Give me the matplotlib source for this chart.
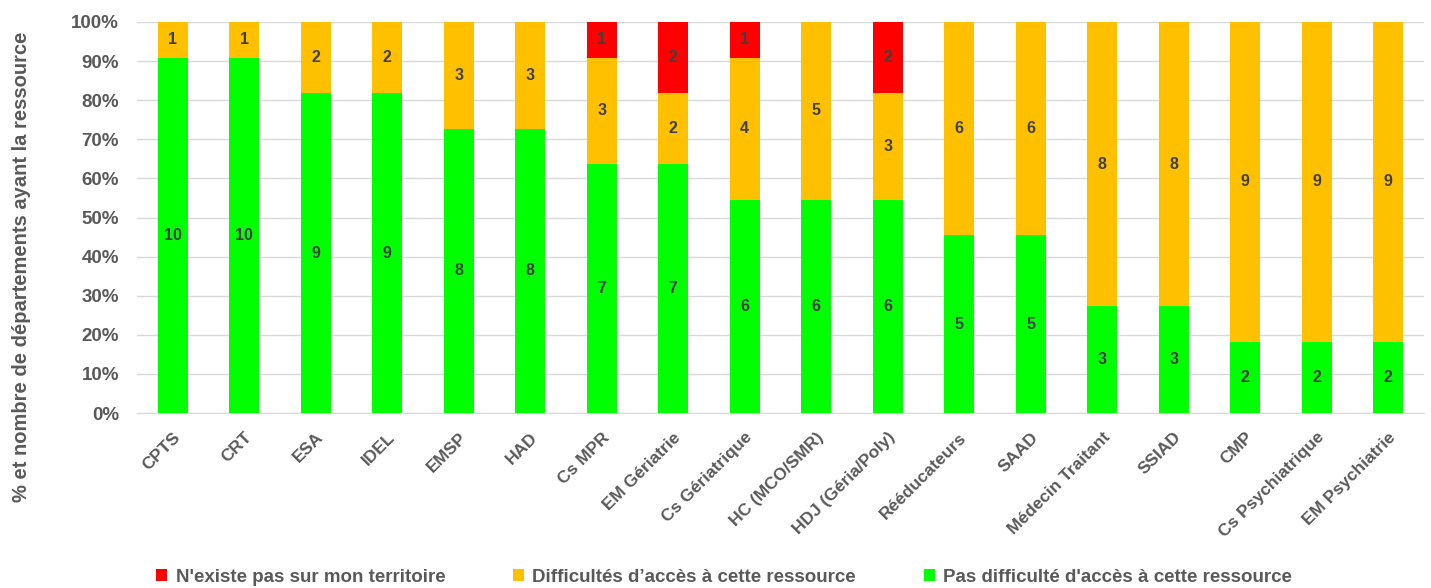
import matplotlib
matplotlib.use("Agg")
import matplotlib.pyplot as plt
import numpy as np

categories = ["CPTS", "CRT", "ESA", "IDEL", "EMSP", "HAD", "Cs MPR", "EM Gériatrie",
              "Cs Gériatrique", "HC (MCO/SMR)", "HDJ (Géria/Poly)", "Rééducateurs",
              "SAAD", "Médecin Traitant", "SSIAD", "CMP", "Cs Psychiatrique", "EM Psychiatrie"]
pas_difficulte = [10, 10, 9, 9, 8, 8, 7, 7, 6, 6, 6, 5, 5, 3, 3, 2, 2, 2]
difficultes = [1, 1, 2, 2, 3, 3, 3, 2, 4, 5, 3, 6, 6, 8, 8, 9, 9, 9]
n_existe_pas = [0, 0, 0, 0, 0, 0, 1, 2, 1, 0, 2, 0, 0, 0, 0, 0, 0, 0]

legend_labels = ["N'existe pas sur mon territoire",
                 "Difficultés d’accès à cette ressource",
                 "Pas difficulté d'accès à cette ressource"]
yticks = [0, 10, 20, 30, 40, 50, 60, 70, 80, 90, 100]

plt.rcParams["font.family"] = ["Liberation Sans", "DejaVu Sans"]
plt.rcParams["font.weight"] = "bold"

GREEN = "#00FF00"
ORANGE = "#FFC000"
RED = "#FF0000"
TEXT = "#595959"
LABEL = "#404040"

green = np.array(pas_difficulte, float)
orange = np.array(difficultes, float)
red = np.array(n_existe_pas, float)
total = green + orange + red
pg, po, pr = green / total * 100, orange / total * 100, red / total * 100

fig = plt.figure(figsize=(14.31, 5.88), dpi=100)
ax = fig.add_axes([137 / 1431, 1 - 413 / 588, (1424 - 137) / 1431, (413 - 22) / 588])

x = np.arange(len(categories))
w = 0.42
b1 = ax.bar(x, pg, w, color=GREEN, zorder=3, label=legend_labels[2])
b2 = ax.bar(x, po, w, bottom=pg, color=ORANGE, zorder=3, label=legend_labels[1])
b3 = ax.bar(x, pr, w, bottom=pg + po, color=RED, zorder=3, label=legend_labels[0])

for bars, vals in ((b1, green), (b2, orange), (b3, red)):
    labels = [f"{int(v)}" if v > 0 else "" for v in vals]
    ax.bar_label(bars, labels=labels, label_type="center", color=LABEL,
                 fontsize=11.5, fontweight="bold")

ax.set_xlim(-0.5, len(categories) - 0.5)
ax.set_ylim(0, 100)
ax.set_yticks(yticks)
ax.set_yticklabels([f"{t}%" for t in yticks], color=TEXT, fontsize=13.5, fontweight="bold")
ax.set_xticks(x)
ax.set_xticklabels(categories, rotation=45, ha="right", rotation_mode="anchor",
                   color=TEXT, fontsize=12.5, fontweight="bold")
ax.tick_params(axis="both", length=0)
ax.tick_params(axis="y", pad=13)
ax.tick_params(axis="x", pad=12)
ax.grid(axis="y", color="#D9D9D9", linewidth=1, zorder=0)
for s in ("top", "right", "left"):
    ax.spines[s].set_visible(False)
ax.spines["bottom"].set_color("#D9D9D9")

fig.text(22 / 1431, 1 - 267 / 588, "% et nombre de départements ayant la ressource",
         rotation=90, ha="center", va="center", color=TEXT, fontsize=14.5, fontweight="bold")

handles = [b3, b2, b1]
leg = fig.legend(handles, legend_labels, loc="center", bbox_to_anchor=(0.506, 1 - 577 / 588),
                 ncol=3, frameon=False, fontsize=13.5, handlelength=0.6, handleheight=0.6,
                 columnspacing=3.6, handletextpad=0.45, labelcolor=TEXT)
for t in leg.get_texts():
    t.set_fontweight("bold")

fig.savefig("out.png", dpi=100, facecolor="white")
